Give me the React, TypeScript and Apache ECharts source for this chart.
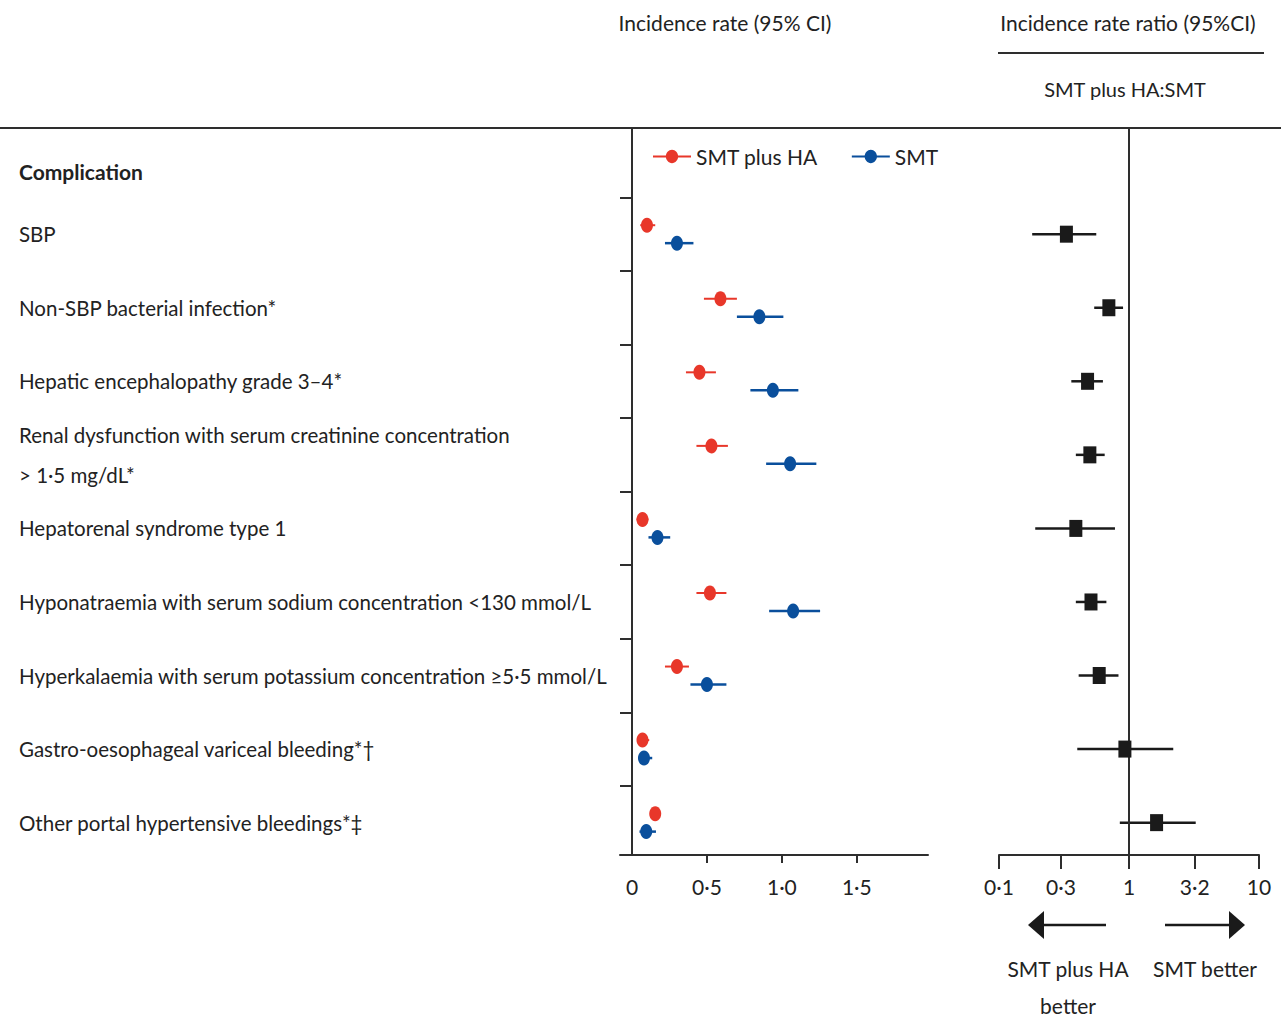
import React, { useEffect, useRef } from "react";
import * as echarts from "echarts";

const categories = [
  "SBP",
  "Non-SBP bacterial infection*",
  "Hepatic encephalopathy grade 3–4*",
  "Renal dysfunction with serum creatinine concentration\n> 1·5 mg/dL*",
  "Hepatorenal syndrome type 1",
  "Hyponatraemia with serum sodium concentration <130 mmol/L",
  "Hyperkalaemia with serum potassium concentration ≥5·5 mmol/L",
  "Gastro-oesophageal variceal bleeding*†",
  "Other portal hypertensive bleedings*‡",
];

const smtHaRate = [0.1, 0.59, 0.45, 0.53, 0.07, 0.52, 0.3, 0.07, 0.155];
const smtHaLow = [0.055, 0.48, 0.36, 0.43, 0.03, 0.43, 0.22, 0.035, 0.12];
const smtHaHigh = [0.155, 0.7, 0.56, 0.64, 0.11, 0.63, 0.38, 0.115, 0.19];

const smtRate = [0.3, 0.85, 0.94, 1.055, 0.17, 1.075, 0.5, 0.08, 0.095];
const smtLow = [0.22, 0.7, 0.79, 0.895, 0.11, 0.915, 0.39, 0.04, 0.05];
const smtHigh = [0.41, 1.01, 1.11, 1.23, 0.255, 1.255, 0.63, 0.135, 0.16];

const irr = [0.33, 0.7, 0.48, 0.5, 0.39, 0.51, 0.59, 0.93, 1.63];
const irrLow = [0.18, 0.54, 0.36, 0.39, 0.19, 0.39, 0.41, 0.4, 0.85];
const irrHigh = [0.56, 0.9, 0.63, 0.65, 0.78, 0.67, 0.83, 2.19, 3.26];

const rateTicks = [0, 0.5, 1, 1.5];
const rateTickLabels = ["0", "0·5", "1·0", "1·5"];
const irrTicks = [0.1, 0.3, 1, 3.2, 10];
const irrTickLabels = ["0·1", "0·3", "1", "3·2", "10"];
const rowBoundaries = [1, 2, 3, 4, 5, 6, 7, 8, 9];

const FONT = "Lato, 'Liberation Sans', sans-serif";
const FS = 21;
const LABEL_FS = 20.5;
const RED = "#e8372a";
const BLUE = "#0a4f9c";
const BLACK = "#1a1a1a";
const AXIS = "#2e2e2e";

export default function App() {
  const ref = useRef<HTMLDivElement>(null);

  useEffect(() => {
    document.body.style.margin = "0";
    const chart = echarts.init(ref.current!, undefined, { renderer: "svg" });
    const n = categories.length;
    const rowPos = categories.map((_, i) => n - 0.5 - i);
    const off = 0.122;

    const ciSeries = (name: string, lo: number[], hi: number[], dy: number, color: string, xi: number, lw: number) => ({
      type: "custom",
      name,
      xAxisIndex: xi,
      yAxisIndex: xi,
      z: 2,
      encode: { x: [0, 1], y: 2 },
      data: lo.map((l, i) => [l, hi[i], rowPos[i] + dy]),
      renderItem: (params: any, api: any) => {
        const y = api.value(2);
        const p1 = api.coord([api.value(0), y]);
        const p2 = api.coord([api.value(1), y]);
        return {
          type: "line",
          shape: { x1: p1[0], y1: p1[1], x2: p2[0], y2: p2[1] },
          style: { stroke: color, lineWidth: lw },
        };
      },
    });

    const legendIcon =
      "path://M0,7H40V9H0Z M13.5,8C13.5,4.4 16.4,1 20,1C23.6,1 26.5,4.4 26.5,8C26.5,11.6 23.6,15 20,15C16.4,15 13.5,11.6 13.5,8Z";

    const labelLookup = (v: number) => {
      const i = Math.round(n - 0.5 - v);
      return categories[i] ?? "";
    };

    const txt = (text: string, x: number, y: number, size = FS, align = "center", weight = "normal") => ({
      type: "text",
      x,
      y,
      style: { text, font: `${weight} ${size}px ${FONT}`, fill: "#222", align, verticalAlign: "middle" },
    });

    const option: any = {
      animation: false,
      textStyle: { fontFamily: FONT, color: "#222" },
      legend: {
        left: 648,
        top: 141,
        itemGap: 34,
        itemWidth: 38,
        itemHeight: 15,
        textStyle: { fontSize: FS, color: "#222", fontFamily: FONT },
        data: [
          { name: "SMT plus HA", icon: legendIcon },
          { name: "SMT", icon: legendIcon },
        ],
      },
      grid: [
        { left: 620, width: 308, top: 129, height: 726 },
        { left: 999, width: 260, top: 129, height: 726 },
      ],
      xAxis: [
        {
          type: "value",
          gridIndex: 0,
          min: -0.08,
          max: 1.975,
          splitLine: { show: false },
          axisLine: { show: true, onZero: false, lineStyle: { color: AXIS, width: 2 } },
          axisTick: { show: true, length: 8, customValues: rateTicks.slice(1), lineStyle: { color: AXIS, width: 2 } },
          axisLabel: {
            customValues: rateTicks,
            margin: 21,
            fontSize: FS,
            color: "#222",
            fontFamily: FONT,
            formatter: (v: number) => rateTickLabels[rateTicks.findIndex((t) => Math.abs(t - v) < 1e-9)] ?? "",
          },
        },
        {
          type: "log",
          logBase: 10,
          gridIndex: 1,
          min: 0.1,
          max: 10,
          splitLine: { show: false },
          axisLine: { show: true, onZero: false, lineStyle: { color: AXIS, width: 2 } },
          axisTick: { show: true, length: 14, customValues: irrTicks, lineStyle: { color: AXIS, width: 2 } },
          axisLabel: {
            customValues: irrTicks,
            margin: 21,
            fontSize: FS,
            color: "#222",
            fontFamily: FONT,
            formatter: (v: number) => irrTickLabels[irrTicks.findIndex((t) => Math.abs(t - v) / t < 1e-6)] ?? "",
          },
        },
      ],
      yAxis: [
        {
          type: "value",
          gridIndex: 0,
          min: 0.06,
          max: 9.93,
          splitLine: { show: false },
          axisLine: { show: true, onZero: true, lineStyle: { color: AXIS, width: 2 } },
          axisTick: { show: true, length: 12, customValues: rowBoundaries, lineStyle: { color: AXIS, width: 2 } },
          axisLabel: {
            customValues: rowPos,
            align: "left",
            margin: 601,
            fontSize: LABEL_FS,
            lineHeight: 40,
            color: "#222",
            fontFamily: FONT,
            formatter: (v: number) => labelLookup(v),
          },
        },
        {
          type: "value",
          gridIndex: 1,
          min: 0.06,
          max: 9.93,
          show: false,
        },
      ],
      series: [
        ciSeries("ciHa", smtHaLow, smtHaHigh, off, RED, 0, 2),
        ciSeries("ciSmt", smtLow, smtHigh, -off, BLUE, 0, 2.5),
        {
          type: "scatter",
          name: "SMT plus HA",
          xAxisIndex: 0,
          yAxisIndex: 0,
          z: 5,
          symbol: "circle",
          symbolSize: [12, 15],
          itemStyle: { color: RED, opacity: 1 },
          data: smtHaRate.map((v, i) => [v, rowPos[i] + off]),
        },
        {
          type: "scatter",
          name: "SMT",
          xAxisIndex: 0,
          yAxisIndex: 0,
          z: 5,
          symbol: "circle",
          symbolSize: [12, 15],
          itemStyle: { color: BLUE, opacity: 1 },
          data: smtRate.map((v, i) => [v, rowPos[i] - off]),
        },
        ciSeries("ciIrr", irrLow, irrHigh, 0, BLACK, 1, 2.5),
        {
          type: "scatter",
          name: "IRR",
          xAxisIndex: 1,
          yAxisIndex: 1,
          z: 5,
          symbol: "rect",
          symbolSize: [13, 17],
          itemStyle: { color: BLACK, opacity: 1 },
          data: irr.map((v, i) => [v, rowPos[i]]),
          markLine: {
            silent: true,
            symbol: "none",
            label: { show: false },
            lineStyle: { color: AXIS, width: 2, type: "solid" },
            data: [{ xAxis: 1 }],
          },
        },
      ],
      graphic: [
        txt("Incidence rate (95% CI)", 725, 22),
        txt("Incidence rate ratio (95%CI)", 1128, 22),
        { type: "line", shape: { x1: 998, y1: 53, x2: 1264, y2: 53 }, style: { stroke: AXIS, lineWidth: 2 } },
        txt("SMT plus HA:SMT", 1125, 89, 20),
        { type: "line", shape: { x1: 0, y1: 128, x2: 1281, y2: 128 }, style: { stroke: AXIS, lineWidth: 2 } },
        txt("Complication", 19, 171, FS, "left", "bold"),
        { type: "line", shape: { x1: 1042, y1: 925, x2: 1106, y2: 925 }, style: { stroke: BLACK, lineWidth: 2.5 } },
        { type: "polygon", shape: { points: [[1028, 925], [1044, 911], [1044, 939]] }, style: { fill: BLACK } },
        { type: "line", shape: { x1: 1165, y1: 925, x2: 1231, y2: 925 }, style: { stroke: BLACK, lineWidth: 2.5 } },
        { type: "polygon", shape: { points: [[1245, 925], [1229, 911], [1229, 939]] }, style: { fill: BLACK } },
        txt("SMT plus HA", 1068, 968),
        txt("better", 1068, 1005),
        txt("SMT better", 1205, 968),
      ],
    };

    chart.setOption(option);
    return () => chart.dispose();
  }, []);

  return <div ref={ref} style={{ width: 1281, height: 1023 }} />;
}
